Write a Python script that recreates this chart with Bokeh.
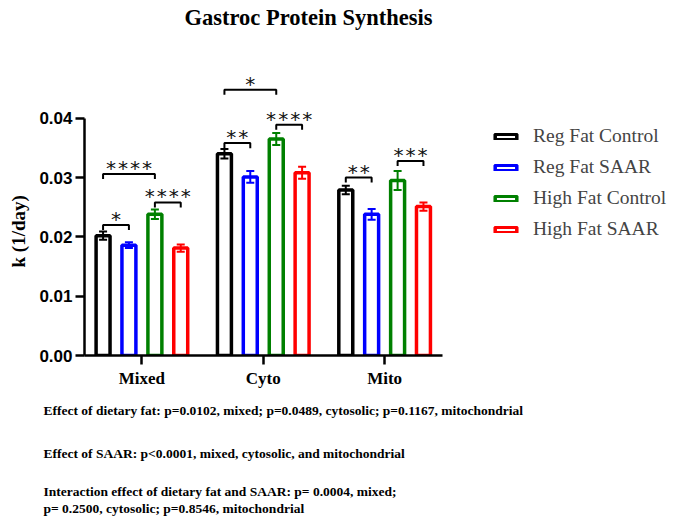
from bokeh.plotting import figure
from bokeh.models import (Range1d, FixedTicker, PrintfTickFormatter, Label, Legend,
                          LegendItem, ColumnDataSource, Title)
from bokeh.core.properties import value
from bokeh.embed import file_html
from bokeh.resources import INLINE

# ---------------- data ----------------
categories = ["Mixed", "Cyto", "Mito"]
groups = ["Reg Fat Control", "Reg Fat SAAR", "High Fat Control", "High Fat SAAR"]
colors = ["#000000", "#0000FF", "#008000", "#FF0000"]

reg_fat_control = [0.0202, 0.0340, 0.0279]
reg_fat_saar = [0.0186, 0.0301, 0.0238]
high_fat_control = [0.0238, 0.0365, 0.0295]
high_fat_saar = [0.0181, 0.0308, 0.0251]

reg_fat_control_err = [0.0007, 0.0008, 0.0007]
reg_fat_saar_err = [0.0005, 0.0010, 0.0009]
high_fat_control_err = [0.0008, 0.0010, 0.0016]
high_fat_saar_err = [0.0006, 0.0010, 0.0007]

# significance brackets: category, first group, second group, level, stars
sig_category = [0, 0, 0, 1, 1, 1, 2, 2]
sig_from = [0, 0, 2, 0, 2, 0, 0, 2]
sig_to = [1, 2, 3, 1, 3, 2, 1, 3]
sig_level = [0.0220, 0.0306, 0.0258, 0.0358, 0.0389, 0.0448, 0.0300, 0.0328]
sig_stars = ["*", "****", "****", "**", "****", "*", "**", "***"]

y_ticks = [0.0, 0.01, 0.02, 0.03, 0.04]

title_text = "Gastroc Protein Synthesis"
y_label = "k (1/day)"
notes = [
    "Effect of dietary fat: p=0.0102, mixed; p=0.0489, cytosolic; p=0.1167, mitochondrial",
    "Effect of SAAR: p<0.0001, mixed, cytosolic, and mitochondrial",
    "Interaction  effect of dietary fat and SAAR: p= 0.0004, mixed;\np= 0.2500, cytosolic; p=0.8546, mitochondrial",
]

means = [reg_fat_control, reg_fat_saar, high_fat_control, high_fat_saar]
errs = [reg_fat_control_err, reg_fat_saar_err, high_fat_control_err, high_fat_saar_err]

# ---------------- layout constants ----------------
offsets = [-0.32, -0.107, 0.107, 0.32]
bar_w = 0.115
cap_half = 0.033
drop = 0.00085

p = figure(frame_width=594, frame_height=355, output_backend="svg", toolbar_location=None,
           x_range=Range1d(-0.473, 4.4215), y_range=Range1d(0, 0.05984),
           min_border_left=84, min_border_right=0, min_border_top=0,
           min_border_bottom=0, title=None)
p.outline_line_color = None
p.xgrid.visible = False
p.ygrid.visible = False
p.background_fill_color = "white"
p.border_fill_color = "white"

renderers = []
for gi in range(4):
    xs = [ci + offsets[gi] for ci in range(len(categories))]
    src = ColumnDataSource(dict(x=xs, top=means[gi],
                                lo=[m - e for m, e in zip(means[gi], errs[gi])],
                                hi=[m + e for m, e in zip(means[gi], errs[gi])],
                                xl=[x - cap_half for x in xs],
                                xr=[x + cap_half for x in xs]))
    r = p.vbar(x="x", top="top", bottom=0, width=bar_w, source=src,
               fill_color="white", line_color=colors[gi], line_width=3.5)
    renderers.append(r)
    p.segment(x0="x", y0="lo", x1="x", y1="hi", source=src,
              line_color=colors[gi], line_width=2)
    p.segment(x0="xl", y0="hi", x1="xr", y1="hi", source=src,
              line_color=colors[gi], line_width=2)
    p.segment(x0="xl", y0="lo", x1="xr", y1="lo", source=src,
              line_color=colors[gi], line_width=2)

# brackets
bxs, bys, tx, ty = [], [], [], []
for c, a, b, lv in zip(sig_category, sig_from, sig_to, sig_level):
    x1 = c + offsets[a]
    x2 = c + offsets[b]
    bxs.append([x1, x1, x2, x2])
    bys.append([lv - drop, lv, lv, lv - drop])
    tx.append((x1 + x2) / 2)
    ty.append(lv)
p.multi_line(xs=bxs, ys=bys, line_color="black", line_width=2)
p.text(x=tx, y=ty, text=sig_stars, text_font=value("DejaVu Sans Mono"),
       text_font_size="20px", text_align="center", text_baseline="alphabetic",
       y_offset=-6, text_color="#111111")

# axes
p.xaxis.ticker = FixedTicker(ticks=list(range(len(categories))))
p.xaxis.major_label_overrides = {i: c for i, c in enumerate(categories)}
p.xaxis.minor_tick_line_color = None
p.xaxis.bounds = (-0.473, 2.477)
p.yaxis.ticker = FixedTicker(ticks=y_ticks)
p.yaxis.formatter = PrintfTickFormatter(format="%.2f")
p.yaxis.minor_tick_line_color = None
p.yaxis.bounds = (0, 0.04)
for ax in (p.xaxis[0], p.yaxis[0]):
    ax.axis_line_width = 2.5
    ax.major_tick_line_width = 2.5
    ax.major_tick_out = 9
    ax.major_tick_in = 0
    ax.axis_line_color = "black"
    ax.major_tick_line_color = "black"
    ax.major_label_text_color = "black"
p.xaxis.major_label_text_font = "Liberation Serif"
p.xaxis.major_label_text_font_style = "bold"
p.xaxis.major_label_text_font_size = "17px"
p.xaxis.major_label_standoff = 4
p.yaxis.major_label_text_font = "Liberation Sans"
p.yaxis.major_label_text_font_style = "bold"
p.yaxis.major_label_text_font_size = "17px"
p.yaxis.major_label_standoff = 3

# y axis title (on the left, placed along the 0..0.04 span)
p.add_layout(Title(text=y_label, align="left", offset=88, standoff=11,
                   vertical_align="top", text_font="Liberation Serif",
                   text_font_style="bold", text_font_size="19px",
                   text_color="black"), "left")

# legend
items = [LegendItem(label=g, renderers=[r]) for g, r in zip(groups, renderers)]
legend = Legend(items=items, location=(408, 115), padding=0, spacing=9,
                glyph_width=27, glyph_height=7, label_height=21, label_standoff=14,
                label_text_font="Liberation Serif", label_text_font_size="19.5px",
                border_line_color=None, background_fill_alpha=0, margin=0)
p.add_layout(legend)

# title
p.add_layout(Label(x=224, y=338, x_units="screen", y_units="screen", text=title_text,
                   text_align="center", text_baseline="alphabetic",
                   text_font="Liberation Serif", text_font_style="bold",
                   text_font_size="22.5px", text_color="black"))

# notes below the chart
note_standoff = [25, 26, 16]
for t, s in zip(notes, note_standoff):
    p.add_layout(Title(text=t, align="left", offset=-41, standoff=s,
                       vertical_align="top", text_font="Liberation Serif",
                       text_font_style="bold", text_font_size="13.5px",
                       text_color="black", text_line_height=1.16), "below")

open("out.html", "w").write(file_html(p, INLINE))
